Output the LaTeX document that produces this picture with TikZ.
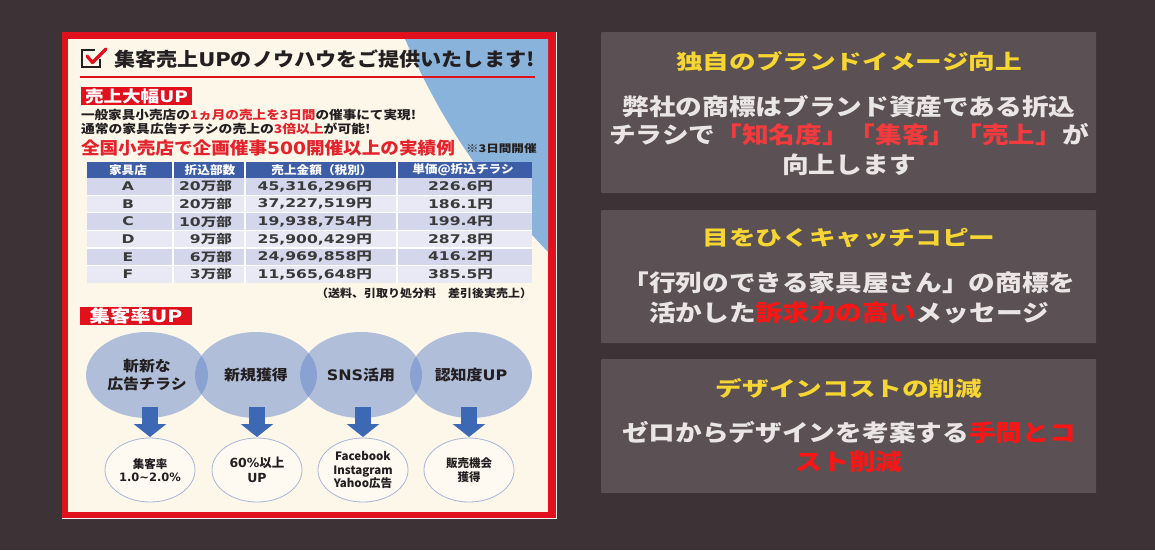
\documentclass[tikz,border=0pt]{standalone}
\usepackage{graphicx}
\usepackage{fontspec}
\newfontfamily\jp{Noto Sans CJK JP}
\newfontfamily\dv{DejaVu Sans}
\usetikzlibrary{shapes.geometric,arrows.meta}
\definecolor{bgc}{HTML}{3D3235}
\definecolor{boxc}{HTML}{5B5053}
\definecolor{ttl}{HTML}{F6D632}
\definecolor{bodyc}{HTML}{EAE6E6}
\definecolor{redA}{HTML}{F33B3E}
\definecolor{redB}{HTML}{FF1414}
\definecolor{frame}{HTML}{E0101D}
\definecolor{cream}{HTML}{FDF7EA}
\definecolor{wedge}{HTML}{8AB3DB}
\definecolor{ink}{HTML}{231F20}
\definecolor{pred}{HTML}{E3222B}
\definecolor{hdr}{HTML}{3D5DA7}
\definecolor{rowA}{HTML}{D4D7EC}
\definecolor{rowB}{HTML}{E8E9F5}
\definecolor{cell}{HTML}{3A3A3A}
\definecolor{circ}{HTML}{6587CC}
\definecolor{arr}{HTML}{3D68B3}
\definecolor{sline}{HTML}{A9B6D6}
\definecolor{sfill}{HTML}{FEF9F1}
\newcommand\lf[2]{\jp\bfseries\fontsize{#1}{#2}\selectfont}
\newcommand\dg[1]{{\dv\bfseries #1}}
\newcommand\sx[2]{\scalebox{#1}[1]{#2}}
\newcommand\tc[1]{\scalebox{1.3}[1]{#1}}
\begin{document}
\begin{tikzpicture}[x=1pt,y=-1pt,
  every node/.style={inner sep=0pt,outer sep=0pt},
  rbox/.style={fill=boxc,rounded corners=1pt,minimum width=495pt},
  rtitle/.style={text=ttl,font={\lf{20.5}{24}}},
  rbody/.style={text=bodyc,font={\lf{23}{27}}},
  ptext/.style={anchor=west,text=ink,font={\lf{12}{14}}},
  redlab/.style={fill=frame,text=white,minimum height=18pt},
  hcell/.style={text=white,font={\lf{11.5}{13}}},
  bcell/.style={text=cell,font={\lf{12}{14}}},
  ncell/.style={text=cell,font={\lf{12}{14}},anchor=east},
  cbig/.style={ellipse,fill=circ,fill opacity=0.5,text opacity=1,minimum width=122pt,minimum height=86pt,align=center,text=ink,font={\lf{14.5}{18}}},
  csml/.style={ellipse,draw=sline,fill=sfill,line width=0.8pt,minimum width=90pt,minimum height=64pt,align=center,text=ink,font={\lf{11.5}{13.5}}},
  barrow/.style={draw=arr,line width=16pt,-{Triangle[width=32pt,length=13pt]},shorten <=-11pt,shorten >=1pt}
]
\useasboundingbox (0,0) rectangle (1155,550);
\fill[bgc] (0,0) rectangle (1155,550);

% ---------------- left panel ----------------
\fill[white!90!gray] (62,32) rectangle (557,519);
\fill[frame] (62,32) rectangle (556,518);
\fill[cream] (68,39) rectangle (548,512);
\fill[wedge] (405,39) .. controls (432,100) and (470,170) .. (548,252) -- (548,39) -- cycle;

% checkbox icon
\draw[ink,line width=2pt] (95,50) -- (82,50) -- (82,67) -- (100,67) -- (100,59);
\draw[frame,line width=3.2pt,line cap=round,line join=round] (87,56) -- (92.5,62.5) -- (106,49);
\node[anchor=west,text=ink,font={\lf{19}{23}}] (title) at (114,59) {\sx{1.11}{集客売上\dg{UP}のノウハウをご提供いたします!}};
\draw[frame,line width=1.5pt] (80,77) -- (535,77);

\node[redlab,minimum width=111pt,font={\lf{16}{18}}] (lab1) at (136.5,96) {\sx{1.16}{売上大幅\dg{UP}}};
\node[ptext] (p1) at (81,115) {\sx{1.135}{一般家具小売店の\textcolor{pred}{1ヵ月の売上を3日間}の催事にて実現!}};
\node[ptext] (p2) at (81,129) {\sx{1.15}{通常の家具広告チラシの売上の\textcolor{pred}{3倍以上}が可能!}};
\node[anchor=west,text=pred,font={\lf{17}{20}}] (p3) at (81,148) {\sx{1.095}{全国小売店で企画催事\dg{500}開催以上の実績例}};
\node[anchor=west,text=ink,font={\lf{10.5}{12}}] (p4) at (466,149) {\sx{1.2}{※3日間開催}};

% table
\fill[hdr] (87,162) rectangle (532,177.5);
\foreach \k/\c in {0/rowA,1/rowB,2/rowA,3/rowB,4/rowA,5/rowB}{
  \fill[\c] (87,177.5+17.6*\k) rectangle (532,177.5+17.6*\k+17.6);
}
\foreach \k in {1,...,5}{
  \draw[white,line width=1.2pt] (87,177.5+17.6*\k) -- (532,177.5+17.6*\k);
}
\foreach \xx in {173,245,397}{
  \draw[white,line width=1.4pt] (\xx,162) -- (\xx,283.1);
}
\node[hcell] (h1) at (128,170) {\sx{1.1}{家具店}};
\node[hcell] (h2) at (210,170) {\sx{1.1}{折込部数}};
\node[hcell] (h3) at (322,170) {\sx{1.1}{売上金額（税別）}};
\node[hcell] (h4) at (463,170) {\sx{1.1}{単価@折込チラシ}};

\node[bcell] (a1) at (128,186.3) {\tc{\dg{A}}};
\node[ncell] (a2) at (232,186.3) {\tc{\dg{20}万部}};
\node[ncell] (a3) at (372,186.3) {\tc{\dg{45,316,296}円}};
\node[ncell] (a4) at (493,186.3) {\tc{\dg{226.6}円}};

\node[bcell] (b1) at (128,203.9) {\tc{\dg{B}}};
\node[ncell] (b2) at (232,203.9) {\tc{\dg{20}万部}};
\node[ncell] (b3) at (372,203.9) {\tc{\dg{37,227,519}円}};
\node[ncell] (b4) at (493,203.9) {\tc{\dg{186.1}円}};

\node[bcell] (c1) at (128,221.5) {\tc{\dg{C}}};
\node[ncell] (c2) at (232,221.5) {\tc{\dg{10}万部}};
\node[ncell] (c3) at (372,221.5) {\tc{\dg{19,938,754}円}};
\node[ncell] (c4) at (493,221.5) {\tc{\dg{199.4}円}};

\node[bcell] (d1) at (128,239.1) {\tc{\dg{D}}};
\node[ncell] (d2) at (232,239.1) {\tc{\dg{9}万部}};
\node[ncell] (d3) at (372,239.1) {\tc{\dg{25,900,429}円}};
\node[ncell] (d4) at (493,239.1) {\tc{\dg{287.8}円}};

\node[bcell] (e1) at (128,256.7) {\tc{\dg{E}}};
\node[ncell] (e2) at (232,256.7) {\tc{\dg{6}万部}};
\node[ncell] (e3) at (372,256.7) {\tc{\dg{24,969,858}円}};
\node[ncell] (e4) at (493,256.7) {\tc{\dg{416.2}円}};

\node[bcell] (f1) at (128,274.3) {\tc{\dg{F}}};
\node[ncell] (f2) at (232,274.3) {\tc{\dg{3}万部}};
\node[ncell] (f3) at (372,274.3) {\tc{\dg{11,565,648}円}};
\node[ncell] (f4) at (493,274.3) {\tc{\dg{385.5}円}};

\node[anchor=east,text=ink,font={\lf{11}{13}}] (note) at (532,293) {\sx{1.09}{（送料、引取り処分料　差引後実売上）}};

\node[redlab,minimum width=112pt,font={\lf{17}{19}}] (lab2) at (136,316) {\sx{1.2}{集客率\dg{UP}}};

% circles
\node[cbig] (k1) at (147,375) {\sx{1.1}{斬新な}\\\sx{1.1}{広告チラシ}};
\node[cbig] (k2) at (256,375) {\sx{1.1}{新規獲得}};
\node[cbig] (k3) at (361,375) {\sx{1.1}{\dg{SNS}活用}};
\node[cbig] (k4) at (471,375) {\sx{1.1}{認知度\dg{UP}}};

\node[csml] (s1) at (150,470) {集客率\\\dg{1.0\textasciitilde 2.0\%}};
\node[csml,font={\lf{12.5}{15}}] (s2) at (257,470) {\dg{60\%}以上\\\dg{UP}};
\node[csml] (s3) at (363,470) {Facebook\\Instagram\\Yahoo広告};
\node[csml] (s4) at (469,470) {販売機会\\獲得};

\draw[barrow] (s1.north |- k1.south) -- (s1.north);
\draw[barrow] (s2.north |- k2.south) -- (s2.north);
\draw[barrow] (s3.north |- k3.south) -- (s3.north);
\draw[barrow] (s4.north |- k4.south) -- (s4.north);

% ---------------- right boxes ----------------
\node[rbox,minimum height=161pt] (box1) at (848.5,112.5) {};
\node[rbox,minimum height=133pt] (box2) at (848.5,276.5) {};
\node[rbox,minimum height=134pt] (box3) at (848.5,426) {};

\node[rtitle] (t1) at (849,62) {\sx{1.3}{独自のブランドイメージ向上}};
\node[rbody] (t1a) at (849,107) {\sx{1.16}{弊社の商標はブランド資産である折込}};
\node[rbody] (t1b) at (849,135) {\sx{1.16}{チラシで\textcolor{redA}{「知名度」「集客」「売上」}が}};
\node[rbody] (t1c) at (849,165) {\sx{1.16}{向上します}};

\node[rtitle] (t2) at (849,238) {\sx{1.3}{目をひくキャッチコピー}};
\node[rbody] (t2a) at (849,283) {\sx{1.16}{「行列のできる家具屋さん」の商標を}};
\node[rbody] (t2b) at (849,313) {\sx{1.16}{活かした\textcolor{redB}{訴求力の高い}メッセージ}};

\node[rtitle] (t3) at (849,388) {\sx{1.3}{デザインコストの削減}};
\node[rbody] (t3a) at (849,433) {\sx{1.16}{ゼロからデザインを考案する\textcolor{redB}{手間とコ}}};
\node[rbody] (t3b) at (849,462) {\sx{1.16}{\textcolor{redB}{スト削減}}};
\end{tikzpicture}
\end{document}
